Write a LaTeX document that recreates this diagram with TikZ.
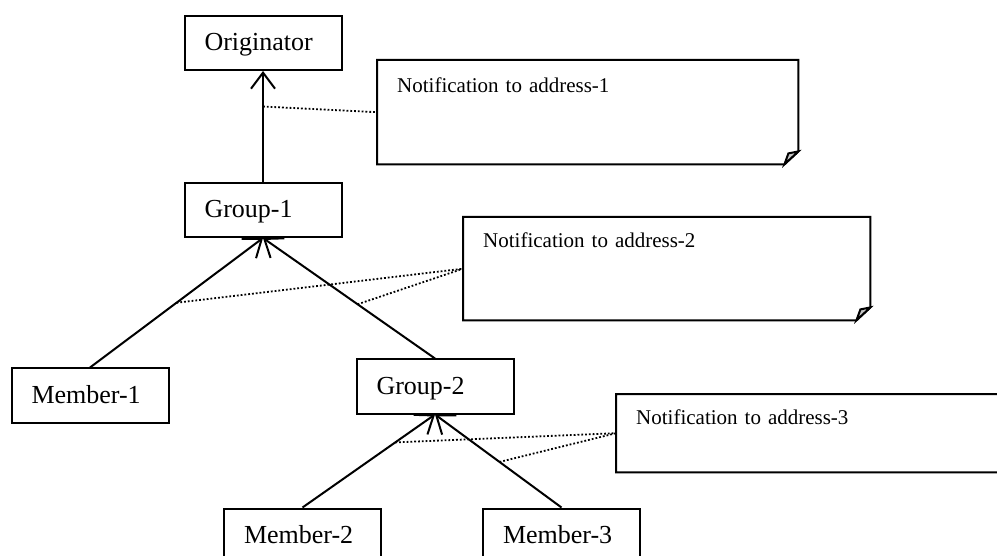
\documentclass[tikz,border=0pt]{standalone}
\usepackage{fontspec}
\setmainfont{Liberation Serif}
\usetikzlibrary{arrows.meta, positioning}

\begin{document}
\begin{tikzpicture}[
  x=1pt, y=-1pt,
  box/.style={draw, line width=2pt, minimum width=157pt, minimum height=54pt,
    text width=117pt, inner xsep=20pt, inner ysep=0pt, align=left,
    text height=22pt, text depth=6pt, font=\fontsize{26}{30}\selectfont},
  note/.style={anchor=north west, inner xsep=20pt, inner ysep=0pt, align=left,
    font=\fontsize{21}{25}\selectfont},
  edge/.style={-{Straight Barb[length=16pt, width=24pt]}, line width=2pt},
  link/.style={dotted, line width=1.8pt},
  fold/.style={line width=2pt}
]
\clip (0,0) rectangle (997,556);

\node[box] (orig) at (263,43) {Originator};
\node[box, below=111pt of orig] (grp1) {Group-1};
\node[box] (mem1) at (90,395.5) {Member-1};
\node[box] (grp2) at (435,386.5) {Group-2};
\node[box] (mem2) at (302.5,535.5) {Member-2};
\node[box, right=100pt of mem2] (mem3) {Member-3};

\node[note, text width=381pt, text height=32pt, text depth=72pt] (n1) at (377,60) {Notification to address-1};
\node[note, text width=367pt, text height=30pt, text depth=73pt] (n2) at (463,217) {Notification to address-2};
\node[note, text width=390pt, text height=30pt, text depth=48pt] (n3) at (616,394) {Notification to address-3};

\foreach \n in {n1,n2,n3} {
  \draw[fold] (\n.north west) -- (\n.north east) -- ([yshift=13pt]\n.south east)
    -- ([xshift=-14pt]\n.south east) -- (\n.south west) -- cycle;
  \filldraw[fold, fill=gray!45] ([yshift=13pt]\n.south east) -- ([xshift=-14pt]\n.south east)
    -- ([xshift=-10pt,yshift=11pt]\n.south east) -- cycle;
}

\draw[edge] (grp1) -- (orig) coordinate[pos=0.68] (p1);
\draw[edge] (mem1.north) -- (grp1.south) coordinate[pos=0.5] (p2);
\draw[edge] (grp2.north) -- (grp1.south) coordinate[pos=0.45] (p3);
\draw[edge] (mem2.north) -- (grp2.south) coordinate[pos=0.7] (p4);
\draw[edge] (mem3.north) -- (grp2.south) coordinate[pos=0.49] (p5);

\draw[link] (p1) -- (n1.west);
\draw[link] (p2) -- (n2.west);
\draw[link] (p3) -- (n2.west);
\draw[link] (p4) -- (n3.west);
\draw[link] (p5) -- (n3.west);
\end{tikzpicture}
\end{document}
